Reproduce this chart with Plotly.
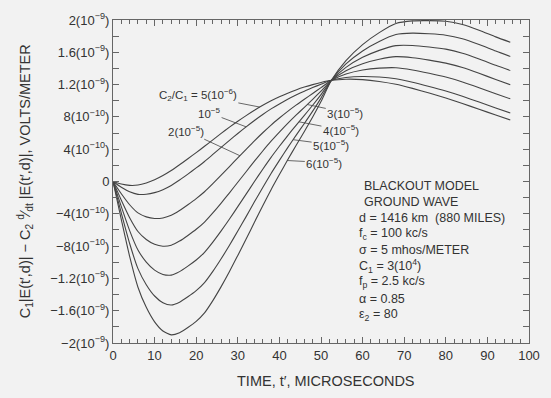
import plotly.graph_objects as go
import numpy as np

# time axis, microseconds
time_us = [0, 2, 4, 6, 8, 10, 12, 14, 16, 18, 20, 22, 24, 26, 28, 30, 32, 34, 36, 38,
           40, 42, 44, 46, 48, 50, 52.5, 56, 60, 64, 68, 72, 76, 80, 84, 88, 92, 95.5]

# curve values in units of 1e-10 V/m, one list per C2/C1 ratio
c_5e6 = [0, -0.32, -0.48, -0.44, -0.18, 0.22, 0.74, 1.36, 2.07, 2.82, 3.58, 4.36, 5.16, 5.96, 6.73, 7.46, 8.16, 8.82, 9.43, 9.99,
         10.49, 10.94, 11.34, 11.69, 12.0, 12.27, 12.53, 12.67, 12.62, 12.39, 12.04, 11.53, 10.96, 10.34, 9.66, 8.95, 8.23, 7.62]
c_1e5 = [0, -0.72, -1.28, -1.59, -1.58, -1.38, -1.01, -0.49, 0.18, 0.92, 1.68, 2.48, 3.35, 4.23, 5.1, 5.95, 6.77, 7.56, 8.3, 8.99,
         9.61, 10.19, 10.71, 11.19, 11.63, 12.05, 12.53, 12.88, 13.01, 12.94, 12.72, 12.29, 11.77, 11.2, 10.55, 9.84, 9.11, 8.49]
c_2e5 = [0, -1.52, -2.88, -3.89, -4.38, -4.58, -4.51, -4.19, -3.6, -2.88, -2.12, -1.27, -0.27, 0.78, 1.85, 2.93, 3.99, 5.04, 6.04, 6.99,
         7.86, 8.69, 9.46, 10.19, 10.9, 11.62, 12.53, 13.3, 13.8, 14.04, 14.09, 13.81, 13.4, 12.93, 12.33, 11.62, 10.87, 10.24]
c_3e5 = [0, -2.32, -4.48, -6.19, -7.18, -7.78, -8.01, -7.89, -7.38, -6.68, -5.92, -5.02, -3.89, -2.67, -1.4, -0.09, 1.21, 2.52, 3.78, 4.99,
         6.11, 7.19, 8.21, 9.19, 10.17, 11.19, 12.53, 13.72, 14.59, 15.14, 15.46, 15.33, 15.03, 14.66, 14.11, 13.4, 12.63, 11.99]
c_4e5 = [0, -3.12, -6.08, -8.49, -9.98, -10.98, -11.51, -11.59, -11.16, -10.48, -9.72, -8.77, -7.51, -6.12, -4.65, -3.11, -1.57, 0, 1.52, 2.99,
         4.36, 5.69, 6.96, 8.19, 9.44, 10.76, 12.53, 14.14, 15.38, 16.24, 16.83, 16.85, 16.66, 16.39, 15.89, 15.18, 14.39, 13.74]
c_5e5 = [0, -3.92, -7.68, -10.79, -12.78, -14.18, -15.01, -15.29, -14.94, -14.28, -13.52, -12.52, -11.13, -9.57, -7.9, -6.13, -4.35, -2.52, -0.74, 0.99,
         2.61, 4.19, 5.71, 7.19, 8.71, 10.33, 12.53, 14.56, 16.17, 17.34, 18.2, 18.37, 18.29, 18.12, 17.67, 16.96, 16.15, 15.49]
c_6e5 = [0, -4.72, -9.28, -13.09, -15.58, -17.38, -18.51, -18.99, -18.72, -18.08, -17.32, -16.27, -14.75, -13.02, -11.15, -9.15, -7.13, -5.04, -3.0, -1.01,
         0.86, 2.69, 4.46, 6.19, 7.98, 9.9, 12.53, 14.98, 16.96, 18.44, 19.57, 19.89, 19.92, 19.85, 19.45, 18.74, 17.91, 17.24]

curves = [c_5e6, c_1e5, c_2e5, c_3e5, c_4e5, c_5e5, c_6e5]
curve_labels = ["C<sub>2</sub>/C<sub>1</sub> = 5(10<sup>−6</sup>)", "10<sup>−5</sup>", "2(10<sup>−5</sup>)",
                "3(10<sup>−5</sup>)", "4(10<sup>−5</sup>)", "5(10<sup>−5</sup>)", "6(10<sup>−5</sup>)"]
label_times = [35.3, 32, 30.5, 46.7, 44.7, 43.3, 41.9]

x_ticks = [0, 10, 20, 30, 40, 50, 60, 70, 80, 90, 100]
y_tickvals = [-20, -16, -12, -8, -4, 0, 4, 8, 12, 16, 20]
y_ticktext = ["−2(10<sup>−9</sup>)", "−1.6(10<sup>−9</sup>)", "−1.2(10<sup>−9</sup>)", "−8(10<sup>−10</sup>)",
              "−4(10<sup>−10</sup>)", "0", "4(10<sup>−10</sup>)", "8(10<sup>−10</sup>)",
              "1.2(10<sup>−9</sup>)", "1.6(10<sup>−9</sup>)", "2(10<sup>−9</sup>)"]

info_lines = ["BLACKOUT MODEL", "GROUND WAVE", "d = 1416 km  (880 MILES)", "f<sub>c</sub> = 100 kc/s",
              "σ = 5 mhos/METER", "C<sub>1</sub> = 3(10<sup>4</sup>)", "f<sub>p</sub> = 2.5 kc/s",
              "α = 0.85", "ε<sub>2</sub> = 80"]

INK = "#444444"
TXT = "#333333"
BG = "#f2f2f2"
SANS = "Liberation Sans, Arial, sans-serif"

fig = go.Figure()
for vals in curves:
    fig.add_trace(go.Scatter(x=time_us, y=vals, mode="lines",
                             line=dict(color=INK, width=1.1, shape="spline", smoothing=0.6),
                             showlegend=False, hoverinfo="skip"))

# leader annotations (text offset in pixels from the point on the curve)
offsets = [(-62, -12), (-37, -14), (-54, -25), (38, 8), (42, 8), (38, 5), (37, 2)]
for lab, tt, vals, (ax, ay) in zip(curve_labels, label_times, curves, offsets):
    yv = float(np.interp(tt, time_us, vals))
    fig.add_annotation(x=tt, y=yv, text=lab, showarrow=True, arrowhead=0, arrowwidth=0.8,
                       arrowcolor=INK, ax=ax, ay=ay, standoff=0,
                       font=dict(family=SANS, size=11.5, color=TXT))

# parameter block
y0 = -0.5
for i, line in enumerate(info_lines):
    xpos = 59.9 if i < 2 else 58.7
    fig.add_annotation(x=xpos, y=y0 - 2 * i, text=line, showarrow=False, xanchor="left",
                       yanchor="middle", font=dict(family=SANS, size=12.5, color=TXT))

# axis titles as annotations
fig.add_annotation(xref="paper", yref="paper", x=0.512, y=-0.119, text="TIME, t′, MICROSECONDS",
                   showarrow=False, xanchor="center", yanchor="middle",
                   font=dict(family=SANS, size=14.5, color=TXT))
fig.add_annotation(xref="paper", yref="paper", x=-0.212, y=0.5, textangle=-90,
                   text="C<sub>1</sub>|E(t′,d)| − C<sub>2</sub> <sup>d</sup>⁄<sub>dt</sub> |E(t′,d)|, VOLTS/METER",
                   showarrow=False, xanchor="center", yanchor="middle",
                   font=dict(family=SANS, size=14.5, color=TXT))

axis_common = dict(showline=True, linecolor="#666666", linewidth=1, mirror="allticks",
                   ticks="inside", ticklen=6, tickcolor="#666666", showgrid=False, zeroline=False)

fig.update_xaxes(range=[0, 100], tickvals=x_ticks, ticktext=[str(v) for v in x_ticks],
                 tickfont=dict(family=SANS, size=13, color=TXT),
                 minor=dict(dtick=2, ticks="inside", ticklen=4, tickcolor="#666666"),
                 **axis_common)
fig.update_yaxes(range=[-20, 20], tickvals=y_tickvals, ticktext=y_ticktext,
                 tickfont=dict(family=SANS, size=13, color=TXT),
                 minor=dict(dtick=2, ticks="inside", ticklen=6, tickcolor="#666666"),
                 **axis_common)

fig.update_layout(width=551, height=398, margin=dict(l=113, r=22, t=11, b=55),
                  paper_bgcolor=BG, plot_bgcolor=BG, showlegend=False)

fig.write_html("out.html", config={"displayModeBar": False},
               post_script="document.body.style.margin='0';document.body.style.overflow='hidden';")
